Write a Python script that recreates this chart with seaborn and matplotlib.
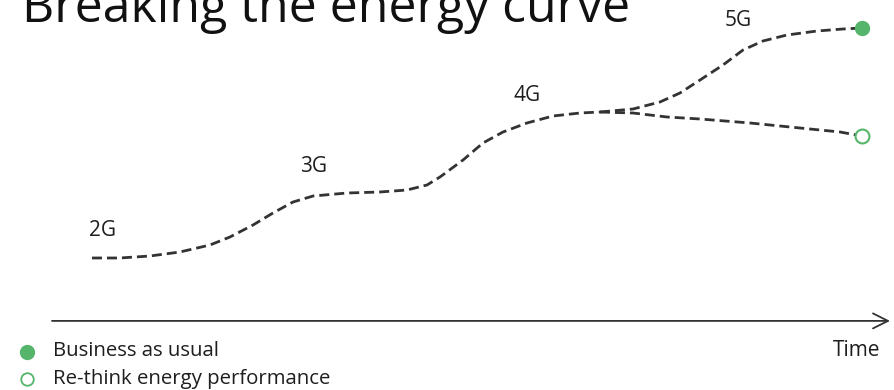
import matplotlib
matplotlib.use("Agg")
import matplotlib.pyplot as plt
from matplotlib.lines import Line2D
import pandas as pd
import seaborn as sns

# Shared path through the network generations (time vs. energy, arbitrary units)
shared_time = [4.77, 8.11, 11.69, 15.27, 18.85, 21.24, 23.99, 26.37, 28.76, 31.15, 35.20,
               39.14, 42.36, 44.75, 46.30, 49.05, 51.43, 53.82, 56.68, 59.79, 63.01, 65.39]
shared_energy = [20.67, 20.67, 21.33, 22.67, 25.0, 27.67, 31.67, 35.67, 39.33, 41.33, 42.33,
                 42.67, 43.33, 45.0, 47.67, 53.33, 59.0, 62.67, 65.67, 68.0, 69.0, 69.33]

# Branch: business as usual
bau_time = [65.39, 69.33, 72.55, 74.94, 77.33, 80.07, 82.46, 84.84, 87.71, 91.29, 94.39, 96.66]
bau_energy = [69.33, 70.33, 72.67, 75.67, 80.0, 85.0, 90.0, 93.0, 95.0, 96.33, 97.0, 97.33]

# Branch: re-think energy performance
rethink_time = [65.39, 69.33, 73.39, 77.33, 83.29, 89.26, 94.03, 96.66]
rethink_energy = [69.33, 69.0, 67.67, 67.0, 65.67, 64.0, 62.67, 61.33]

generations = ["2G", "3G", "4G", "5G"]
gen_time = [5.97, 31.26, 56.68, 81.86]
gen_energy = [30.0, 51.0, 74.67, 100.0]

legend_labels = ["Business as usual", "Re-think energy performance"]

GREEN = "#55b56b"
INK = "#333333"
TEXT = "#1e1e1e"

sns.set_theme(style="white")
plt.rcParams["font.family"] = ["Open Sans", "DejaVu Sans"]

df = pd.concat([
    pd.DataFrame({"time": shared_time, "energy": shared_energy, "segment": "shared"}),
    pd.DataFrame({"time": bau_time, "energy": bau_energy, "segment": "bau"}),
    pd.DataFrame({"time": rethink_time, "energy": rethink_energy, "segment": "rethink"}),
], ignore_index=True)

W, H = 894, 390
fig = plt.figure(figsize=(W / 100, H / 100), dpi=100)
ax = fig.add_axes([52 / W, 70 / H, 838 / W, 300 / H])
ax.set_xlim(0, 100)
ax.set_ylim(0, 100)
ax.axis("off")

sns.lineplot(data=df, x="time", y="energy", units="segment", estimator=None,
             sort=False, color=INK, lw=2.0, ax=ax, legend=False)
for line in ax.lines:
    line.set_dashes((3.6, 1.8))
    line.set_dash_capstyle("butt")
    line.set_clip_on(False)

# End points of the two scenarios
ax.plot(bau_time[-1], bau_energy[-1], "o", ms=10, color=GREEN, clip_on=False, zorder=5)
ax.plot(rethink_time[-1], rethink_energy[-1], "o", ms=10, mfc="white", mec=GREEN,
        mew=1.5, clip_on=False, zorder=5)

for g, t, e in zip(generations, gen_time, gen_energy):
    ax.text(t, e, g, ha="center", va="center", fontsize=15, color=TEXT)

# Time axis
ax.annotate("", xy=(100, -0.3), xytext=(0, -0.3),
            arrowprops=dict(arrowstyle="->,head_length=0.9,head_width=0.45",
                            color=INK, lw=1.3, shrinkA=0, shrinkB=0),
            annotation_clip=False)
fig.text(880 / W, 1 - 351 / H, "Time", ha="right", va="center", fontsize=15, color=TEXT)

# Title
fig.text(22 / W, 1 - 22 / H, "Breaking the energy curve", ha="left", va="baseline",
         fontsize=36, color="#111111")

# Legend
fig.add_artist(Line2D([27 / W], [1 - 352 / H], marker="o", ms=10, color=GREEN,
                      transform=fig.transFigure))
fig.add_artist(Line2D([27 / W], [1 - 379 / H], marker="o", ms=9, mfc="white", mec=GREEN,
                      mew=1.3, transform=fig.transFigure))
fig.text(53 / W, 1 - 351 / H, legend_labels[0], ha="left", va="center", fontsize=14.7, color=TEXT)
fig.text(53 / W, 1 - 379 / H, legend_labels[1], ha="left", va="center", fontsize=14.7, color=TEXT)

fig.savefig("out.png", dpi=100, facecolor="white")
